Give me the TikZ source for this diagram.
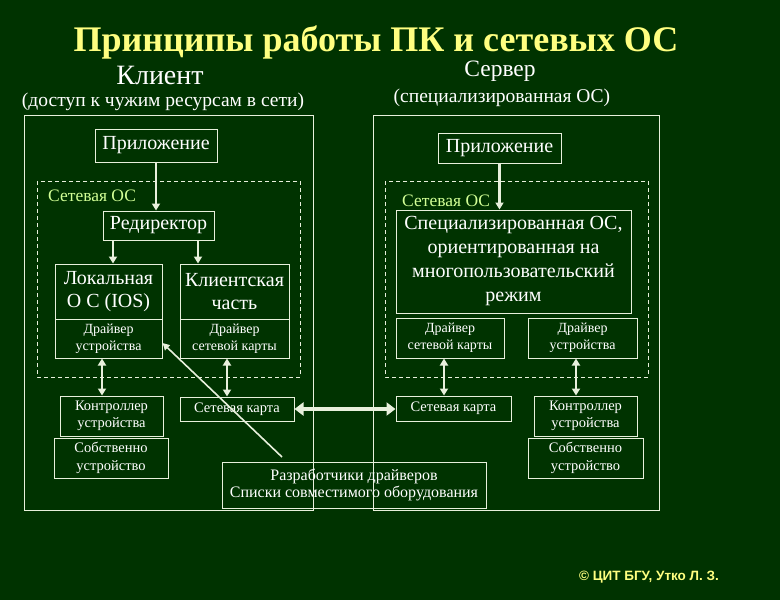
\documentclass[tikz,border=0pt]{standalone}
\usepackage{fontspec}
\setmainfont{Liberation Serif}
\newfontfamily\cpfont{Liberation Sans}
\usetikzlibrary{arrows.meta,calc}
\definecolor{bgc}{RGB}{0,51,0}
\definecolor{linec}{RGB}{232,240,220}
\definecolor{titlec}{RGB}{255,255,128}
\definecolor{osc}{RGB}{210,255,150}
\newcommand{\fs}[2]{\fontsize{#1}{#2}\selectfont}
\tikzset{
  box/.style={draw=linec, line width=1pt, inner sep=0pt, align=center, text=white},
  outerbox/.style={draw=linec, line width=1pt},
  dashbox/.style={draw=linec, line width=1pt, dashed, dash pattern=on 4pt off 3pt},
  arr/.style={draw=linec, line width=2.2pt, -{Triangle[length=7pt,width=8pt]}},
  darr/.style={draw=linec, line width=2.2pt, {Triangle[length=7pt,width=8pt]}-{Triangle[length=7pt,width=8pt]}},
  bigarr/.style={draw=linec, line width=4.5pt, {Triangle[length=9pt,width=13pt]}-{Triangle[length=9pt,width=13pt]}},
  txt/.style={text=white, inner sep=0pt, align=center},
  big/.style={font=\fs{20}{23}},
  small/.style={font=\fs{14}{17}},
  mid/.style={font=\fs{14.5}{17.5}}
}
\begin{document}
\begin{tikzpicture}[x=1pt,y=-1pt]
\fill[bgc] (0,0) rectangle (780,600);
\useasboundingbox (0,0) rectangle (780,600);

% titles
\node[txt, text=titlec, font=\bfseries\fs{36}{40}] (title) at (376,42) {Принципы работы ПК и сетевых ОС};
\node[txt, font=\fs{28}{30}] (klient) at (160,75) {Клиент};
\node[txt, font=\fs{23.5}{26}] (server) at (500,71) {Сервер};
\node[txt, font=\fs{19.5}{22}] (kldesc) at (163,102) {(доступ к чужим ресурсам в сети)};
\node[txt, font=\fs{19.5}{22}] (srvdesc) at (502,98) {(специализированная ОС)};

% containers
\draw[outerbox] (24,115) rectangle (313,510);
\draw[outerbox] (373,115) rectangle (659,510);
\draw[dashbox] (37,181) rectangle (300,377);
\draw[dashbox] (385,181) rectangle (648,377);
\node[txt, text=osc, anchor=west, font=\fs{17.5}{20}] (os1) at (48,196) {Сетевая ОС};
\node[txt, text=osc, anchor=west, font=\fs{17.5}{20}] (os2) at (402,201) {Сетевая ОС};

% client
\node[box, font=\fs{20}{22}, minimum width=122, minimum height=33] (app1) at (156,145.5) {Приложение};
\node[box, font=\fs{20}{23}, minimum width=111, minimum height=29] (redir) at (158.5,225.5) {Редиректор};
\node[box, big, minimum width=107, minimum height=55] (local) at (108.5,291.5) {Локальная\\О С (IOS)};
\node[box, small, minimum width=107, minimum height=39] (drv1) at (108.5,338.5) {Драйвер\\устройства};
\node[box, big, minimum width=109, minimum height=55] (cpart) at (234.5,291.5) {Клиентская\\часть};
\node[box, small, minimum width=109, minimum height=39] (drvnet1) at (234.5,338.5) {Драйвер\\сетевой карты};
\node[box, mid, minimum width=103, minimum height=40] (ctrl1) at (111.5,416) {Контроллер\\устройства};
\node[box, mid, minimum width=114, minimum height=40] (dev1) at (111,458) {Собственно\\устройство};
\node[box, mid, minimum width=114, minimum height=24] (card1) at (237,409) {Сетевая карта};

% server
\node[box, font=\fs{20}{22}, minimum width=123, minimum height=30] (app2) at (499.5,148) {Приложение};
\node[box, font=\fs{20}{24}, minimum width=235, minimum height=103] (spec) at (513.5,261.5) {Специализированная ОС,\\ориентированная на\\многопользовательский\\режим};
\node[box, small, minimum width=108, minimum height=40] (drvnet2) at (450,338) {Драйвер\\сетевой карты};
\node[box, small, minimum width=109, minimum height=40] (drv2) at (582.5,338) {Драйвер\\устройства};
\node[box, mid, minimum width=115, minimum height=25] (card2) at (453.5,408.5) {Сетевая карта};
\node[box, mid, minimum width=103, minimum height=40] (ctrl2) at (585.5,416) {Контроллер\\устройства};
\node[box, mid, minimum width=115, minimum height=40] (dev2) at (585.5,458) {Собственно\\устройство};

% developers
\node[box, font=\fs{16}{17.5}, minimum width=264, minimum height=46] (devs) at (354,485) {Разработчики драйверов\\Списки совместимого оборудования};

% arrow anchor points
\coordinate (a1) at (app1.south);
\coordinate (a2) at ($(redir.south)+(-45.5,0)$);
\coordinate (a3) at ($(redir.south)+(39.5,0)$);
\coordinate (a4) at ($(drv1.south)+(-6.5,0)$);
\coordinate (a5) at ($(drvnet1.south)+(-7.5,0)$);
\coordinate (b2) at ($(drvnet2.south)+(-6,0)$);
\coordinate (b3) at ($(drv2.south)+(-6.5,0)$);

% arrows client
\draw[arr] (a1) -- (a1 |- redir.north);
\draw[arr] (a2) -- (a2 |- local.north);
\draw[arr] (a3) -- (a3 |- cpart.north);
\draw[darr] (a4) -- (a4 |- ctrl1.north);
\draw[darr] (a5) -- (a5 |- card1.north);

% arrows server
\draw[arr] (app2.south) -- (app2.south |- spec.north);
\draw[darr] (b2) -- (b2 |- card2.north);
\draw[darr] (b3) -- (b3 |- ctrl2.north);

% network link
\draw[bigarr] (card1.east) -- (card1.east -| card2.west);

% developers pointer
\coordinate (dstart) at (282,457);
\coordinate (dend) at ($(drv1.east)+(0,4.5)$);
\draw[draw=linec, line width=1.6pt, -{Triangle[length=7pt,width=7pt]}] (dstart) -- (dend);

% copyright
\node[txt, text=titlec, font=\cpfont\bfseries\fs{13.5}{15}] (copy) at (649,577) {© ЦИТ БГУ, Утко Л. З.};
\end{tikzpicture}
\end{document}
